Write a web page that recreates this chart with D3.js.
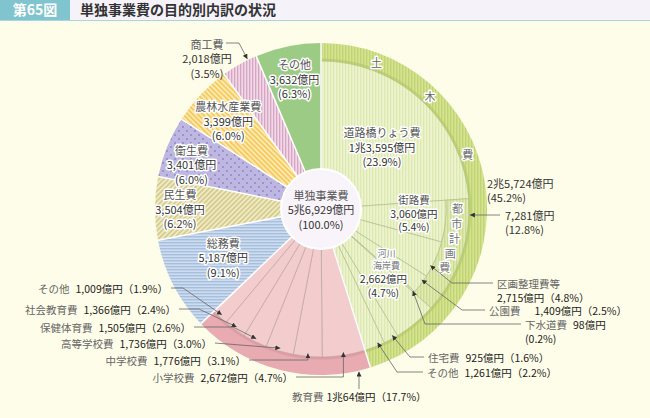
<!DOCTYPE html>
<html>
<head>
<meta charset="utf-8">
<script src="https://cdn.jsdelivr.net/npm/d3@7"></script>
<style>
  body { margin: 0; background: #fefde9; }
  svg { display: block; font-family: "Noto Sans CJK JP", "Noto Sans", sans-serif; }
</style>
</head>
<body>
<div id="chart"></div>
<script>
// data (億円) -------------------------------------------------------------
const mainNames  = ["土木費", "教育費", "総務費", "民生費", "衛生費", "農林水産業費", "商工費", "その他"];
const mainValues = [25724, 10064, 5187, 3504, 3401, 3399, 2018, 3632];
const mainPcts   = [45.2, 17.7, 9.1, 6.2, 6.0, 6.0, 3.5, 6.3];

const civilNames  = ["道路橋りょう費", "都市計画費", "河川海岸費", "住宅費", "その他"];
const civilValues = [13595, 7281, 2662, 925, 1261];
const civilPcts   = [23.9, 12.8, 4.7, 1.6, 2.2];

const cityNames  = ["街路費", "区画整理費等", "公園費", "下水道費"];
const cityValues = [3060, 2715, 1409, 98];
const cityPcts   = [5.4, 4.8, 2.5, 0.2];

const eduNames  = ["小学校費", "中学校費", "高等学校費", "保健体育費", "社会教育費", "その他"];
const eduValues = [2672, 1776, 1736, 1505, 1366, 1009];
const eduPcts   = [4.7, 3.1, 3.0, 2.6, 2.4, 1.9];

// setup -------------------------------------------------------------------
const width = 650, height = 418;
const cx = 321, cy = 209;
const R = 166, RB = 148, RC = 125, R0 = 40;

const total = d3.sum(mainValues);
const angle = d3.scaleLinear().domain([0, total]).range([0, 2 * Math.PI]);

function slices(values, offset) {
  const ends = d3.cumsum(values);
  return values.map((v, i) => ({
    index: i, value: v,
    startAngle: angle(offset + ends[i] - v),
    endAngle: angle(offset + ends[i])
  }));
}
const mainArcs  = slices(mainValues, 0);
const civilArcs = slices(civilValues, 0);
const cityArcs  = slices(cityValues, civilValues[0]);
const eduArcs   = slices(eduValues, mainValues[0]);

const pt = (a, r) => [cx + r * Math.sin(a), cy - r * Math.cos(a)];
const at = (d, f) => d.startAngle + (d.endAngle - d.startAngle) * f;
const mid = d => at(d, 0.5);
const deg = Math.PI / 180;

const num = d3.format(",");
const yen = v => v >= 10000 ? `${Math.floor(v / 10000)}兆${num(v % 10000)}億円` : `${num(v)}億円`;
const pct = p => `(${d3.format(".1f")(p)}%)`;
const pctW = p => `（${d3.format(".1f")(p)}%）`;

const svg = d3.select("#chart").append("svg")
  .attr("width", width).attr("height", height);

svg.append("rect").attr("width", width).attr("height", height).attr("fill", "#fefde9");

// patterns
const defs = svg.append("defs");
function stripes(id, size, base, line, lw, rotate, horizontal) {
  const p = defs.append("pattern").attr("id", id)
    .attr("patternUnits", "userSpaceOnUse")
    .attr("width", size).attr("height", size);
  if (rotate) p.attr("patternTransform", `rotate(${rotate})`);
  p.append("rect").attr("width", size).attr("height", size).attr("fill", base);
  if (horizontal) p.append("rect").attr("width", size).attr("height", lw).attr("fill", line);
  else p.append("rect").attr("width", lw).attr("height", size).attr("fill", line);
}
stripes("civLight", 3, "#edf3cd", "#dbe8b0", 1.2);
stripes("cityBand", 3, "#e0eab1", "#cbdc90", 1.3);
stripes("civRing", 3, "#d5e393", "#c0d473", 1.4);
stripes("soumu", 3, "#cedcef", "#a6bfdd", 1.4, 0, true);
stripes("minsei", 3.5, "#f0eac0", "#d2c98e", 1.6, 45);
stripes("nourin", 3.5, "#fdeaae", "#f6c85e", 1.7, -45);
stripes("shoko", 3, "#f0d8e6", "#d7a4c3", 1.3);
const dots = defs.append("pattern").attr("id", "eisei")
  .attr("patternUnits", "userSpaceOnUse").attr("width", 8).attr("height", 8);
dots.append("rect").attr("width", 8).attr("height", 8).attr("fill", "#bdb7e1");
dots.append("circle").attr("cx", 2).attr("cy", 2).attr("r", 0.9).attr("fill", "#8a82c2");
dots.append("circle").attr("cx", 6).attr("cy", 6).attr("r", 0.9).attr("fill", "#8a82c2");

defs.append("marker").attr("id", "arrow")
  .attr("viewBox", "0 0 6 6").attr("refX", 6).attr("refY", 3)
  .attr("markerWidth", 5).attr("markerHeight", 5)
  .attr("markerUnits", "userSpaceOnUse").attr("orient", "auto")
  .append("path").attr("d", "M0,0L6,3L0,6Z").attr("fill", "#333");

// title bar
svg.append("rect").attr("x", 0).attr("y", 0).attr("width", width).attr("height", 20).attr("fill", "#f5f2fa");
svg.append("rect").attr("x", 0).attr("y", 0).attr("width", 70).attr("height", 20).attr("fill", "#80c4cf");
svg.append("line").attr("x1", 0).attr("x2", width).attr("y1", 20.5).attr("y2", 20.5)
  .attr("stroke", "#a8d6de").attr("stroke-width", 1.2);
svg.append("text").attr("x", 35).attr("y", 15).attr("text-anchor", "middle")
  .attr("fill", "#fff").attr("font-weight", "bold").attr("font-size", 14).text("第65図");
svg.append("text").attr("x", 80).attr("y", 15)
  .attr("fill", "#333").attr("font-weight", "bold").attr("font-size", 14).text("単独事業費の目的別内訳の状況");

// pie -----------------------------------------------------------------------
const arc = d3.arc();
const g = svg.append("g").attr("transform", `translate(${cx},${cy})`);

const mainFill = ["url(#civRing)", "#e8abb1", "url(#soumu)", "url(#minsei)", "url(#eisei)", "url(#nourin)", "url(#shoko)", "#9bcb85"];

g.selectAll("path.main")
  .data(mainArcs)
  .join("path")
  .attr("class", "main")
  .attr("d", d => arc({ ...d, innerRadius: d.index < 2 ? RB : 0, outerRadius: R }))
  .attr("fill", d => mainFill[d.index]);

// civil engineering breakdown
g.selectAll("path.civil")
  .data(civilArcs)
  .join("path")
  .attr("class", "civil")
  .attr("d", d => arc({ ...d, innerRadius: d.index === 1 ? RC : 0, outerRadius: RB }))
  .attr("fill", d => d.index === 1 ? "url(#cityBand)" : "url(#civLight)")
  .attr("stroke", "#aab78c").attr("stroke-width", 0.6);

g.selectAll("path.city")
  .data(cityArcs)
  .join("path")
  .attr("class", "city")
  .attr("d", d => arc({ ...d, innerRadius: 0, outerRadius: RC }))
  .attr("fill", "url(#civLight)")
  .attr("stroke", "#aab78c").attr("stroke-width", 0.6);

// education breakdown
g.selectAll("path.edu")
  .data(eduArcs)
  .join("path")
  .attr("class", "edu")
  .attr("d", d => arc({ ...d, innerRadius: 0, outerRadius: RB }))
  .attr("fill", "#f3cdcd")
  .attr("stroke", "#a89494").attr("stroke-width", 0.5);

// shade along ring inner edge
g.selectAll("path.edge")
  .data(mainArcs.slice(0, 2))
  .join("path")
  .attr("d", d => arc({ ...d, innerRadius: RB, outerRadius: RB + 2.5 }))
  .attr("fill", d => d.index === 0 ? "#adc55e" : "#d4929b")
  .attr("opacity", 0.55);

// white borders between main slices
g.selectAll("line.border")
  .data(mainArcs)
  .join("line")
  .attr("x1", 0).attr("y1", 0)
  .attr("x2", d => R * Math.sin(d.startAngle))
  .attr("y2", d => -R * Math.cos(d.startAngle))
  .attr("stroke", "#fff").attr("stroke-width", 1.5);

g.append("circle").attr("r", R0).attr("fill", "#f9f4fa").attr("stroke", "#fff").attr("stroke-width", 2);

// labels ------------------------------------------------------------------
function halo(sel) {
  return sel.attr("stroke", "#fff").attr("stroke-width", 3)
    .attr("stroke-linejoin", "round").attr("paint-order", "stroke");
}
function block(x, y, lines, size, gap, anchor) {
  const t = svg.append("text").attr("text-anchor", anchor || "middle")
    .attr("font-size", size).attr("fill", "#333");
  const n = lines.length;
  lines.forEach((s, i) => {
    t.append("tspan").attr("x", x).attr("y", y + (i - (n - 1) / 2) * gap)
      .attr("dominant-baseline", "central")
      .attr("fill", i === 0 ? "#555" : "#333").text(s);
  });
  return t;
}

// inside labels: slice, radius, angle shift (deg)
const insideMain = [
  { i: 2, r: 109, da: 1 },
  { i: 3, r: 141, da: 0 },
  { i: 4, r: 137, da: -3 },
  { i: 5, r: 128, da: 0 },
  { i: 7, r: 133, da: 0 }
];
insideMain.forEach(l => {
  const d = mainArcs[l.i];
  const [x, y] = pt(mid(d) + l.da * deg, l.r);
  halo(block(x, y, [mainNames[l.i], yen(mainValues[l.i]), pct(mainPcts[l.i])], 11, 14.5));
});

{
  const [x, y] = pt(mid(civilArcs[0]) + 1.5 * deg, 87);
  halo(block(x, y, [civilNames[0], yen(civilValues[0]), pct(civilPcts[0])], 11, 14.5));
}
{
  const [x, y] = pt(mid(cityArcs[0]) - 3 * deg, 93);
  halo(block(x, y, [cityNames[0], yen(cityValues[0]), pct(cityPcts[0])], 10.5, 13.5));
}
{
  const [x, y] = pt(mid(civilArcs[2]) - 5 * deg, 89);
  halo(block(x, y + 13, [yen(civilValues[2]), pct(civilPcts[2])], 10.5, 14))
    .selectAll("tspan").attr("fill", "#333");
  halo(block(x + 3, y - 13, [civilNames[2].slice(0, 2), civilNames[2].slice(2)], 9, 12))
    .selectAll("tspan").attr("fill", "#777");
}

// center
block(cx, cy, ["単独事業費", yen(total), "(100.0%)"], 11, 14.5);

// ring texts
const cityA = civilArcs[1];
"都市計画費".split("").forEach((c, k) => {
  const [x, y] = pt(cityA.startAngle + (3.5 + k * 6.4) * deg, (RC + RB) / 2);
  halo(svg.append("text").attr("x", x).attr("y", y).attr("text-anchor", "middle")
    .attr("dominant-baseline", "central").attr("font-size", 11).attr("fill", "#777").text(c));
});
[20.7, 44, 69.3].forEach((a, k) => {
  const [x, y] = pt(a * deg, (RB + R) / 2);
  halo(svg.append("text").attr("x", x).attr("y", y).attr("text-anchor", "middle")
    .attr("dominant-baseline", "central").attr("font-size", 11).attr("fill", "#666")
    .text(mainNames[0][k]));
});

// outside labels with leader lines
const leader = pts => svg.append("path")
  .attr("d", d3.line()(pts))
  .attr("fill", "none").attr("stroke", "#666").attr("stroke-width", 0.8)
  .attr("marker-end", "url(#arrow)");

function inline(x, y, name, value, anchor, gap) {
  const t = svg.append("text").attr("x", x).attr("y", y)
    .attr("dominant-baseline", "central").attr("font-size", 10.5)
    .attr("text-anchor", anchor);
  t.append("tspan").attr("fill", "#666").text(name);
  t.append("tspan").attr("dx", gap || 6).attr("fill", "#222").text(value);
  return t;
}

// education (left)
const eduLayout = [
  { i: 5, x: 168, y: 288, ex: 183 },
  { i: 4, x: 176, y: 309, ex: 199 },
  { i: 3, x: 191, y: 327, ex: 233 },
  { i: 2, x: 212, y: 343 },
  { i: 1, x: 246, y: 360, v: true },
  { i: 0, x: 293, y: 377, v: true }
];
eduLayout.forEach(l => {
  const tgt = pt(mid(eduArcs[l.i]), RB - 3);
  inline(l.x, l.y, eduNames[l.i], yen(eduValues[l.i]) + pctW(eduPcts[l.i]), "end");
  const pts = [[l.x + 3, l.y]];
  if (l.ex) pts.push([l.ex, l.y]);
  if (l.v) pts.push([tgt[0], l.y]);
  pts.push(tgt);
  leader(pts);
});

// education total
{
  const x = 359, y = cy + Math.sqrt(R * R - (x - cx) * (x - cx));
  leader([[x, 389], [x, y + 1]]);
  inline(292, 396, mainNames[1], yen(mainValues[1]) + pctW(mainPcts[1]), "start", 3);
}

// civil (right)
const civLayout = [
  { arcs: cityArcs, names: cityNames, vals: cityValues, pcts: cityPcts, i: 1, f: 0.7, r: RC - 2, x: 497, y: 283, ex: 452, two: true },
  { arcs: cityArcs, names: cityNames, vals: cityValues, pcts: cityPcts, i: 2, f: 0.3, r: RC - 2, x: 489, y: 310, ex: 462, gap: 14 },
  { arcs: cityArcs, names: cityNames, vals: cityValues, pcts: cityPcts, i: 3, f: 0.5, r: RC - 2, x: 525, y: 324, ex: 425, two: "pct" },
  { arcs: civilArcs, names: civilNames, vals: civilValues, pcts: civilPcts, i: 3, f: 0.3, r: RB - 3, x: 428, y: 357, ex: 410 },
  { arcs: civilArcs, names: civilNames, vals: civilValues, pcts: civilPcts, i: 4, f: 0.3, r: RB - 3, x: 427, y: 372, ex: 397 }
];
civLayout.forEach(l => {
  const tgt = pt(at(l.arcs[l.i], l.f), l.r);
  const name = l.names[l.i], v = yen(l.vals[l.i]);
  if (l.two === true) {
    svg.append("text").attr("x", l.x).attr("y", l.y).attr("dominant-baseline", "central")
      .attr("font-size", 10.5).attr("fill", "#666").text(name);
    svg.append("text").attr("x", l.x).attr("y", l.y + 14).attr("dominant-baseline", "central")
      .attr("font-size", 10.5).attr("fill", "#222").text(v + pctW(l.pcts[l.i]));
  } else if (l.two === "pct") {
    inline(l.x, l.y, name, v, "start");
    svg.append("text").attr("x", l.x).attr("y", l.y + 14).attr("dominant-baseline", "central")
      .attr("font-size", 10.5).attr("fill", "#222").text(pct(l.pcts[l.i]));
  } else {
    inline(l.x, l.y, name, v + pctW(l.pcts[l.i]), "start", l.gap);
  }
  leader([[l.x - 4, l.y], [l.ex, l.y], tgt]);
});

// city planning total
{
  const y = 215, x = cx + Math.sqrt(RB * RB - (y - cy) * (y - cy));
  leader([[500, y], [x + 1, y]]);
  block(505, y + 7, [yen(civilValues[1]), pct(civilPcts[1])], 11, 14.5, "start")
    .selectAll("tspan").attr("fill", "#333");
}
// civil total
block(487, 190, [yen(mainValues[0]), pct(mainPcts[0])], 11, 14.5, "start")
  .selectAll("tspan").attr("fill", "#333");

// commerce (top left)
{
  const tgt = pt(at(mainArcs[6], 0.75), R + 1);
  leader([[226, 43], [239, 43], tgt]);
  block(207, 58, [mainNames[6], yen(mainValues[6]), pct(mainPcts[6])], 11, 14.5);
}
</script>
</body>
</html>
